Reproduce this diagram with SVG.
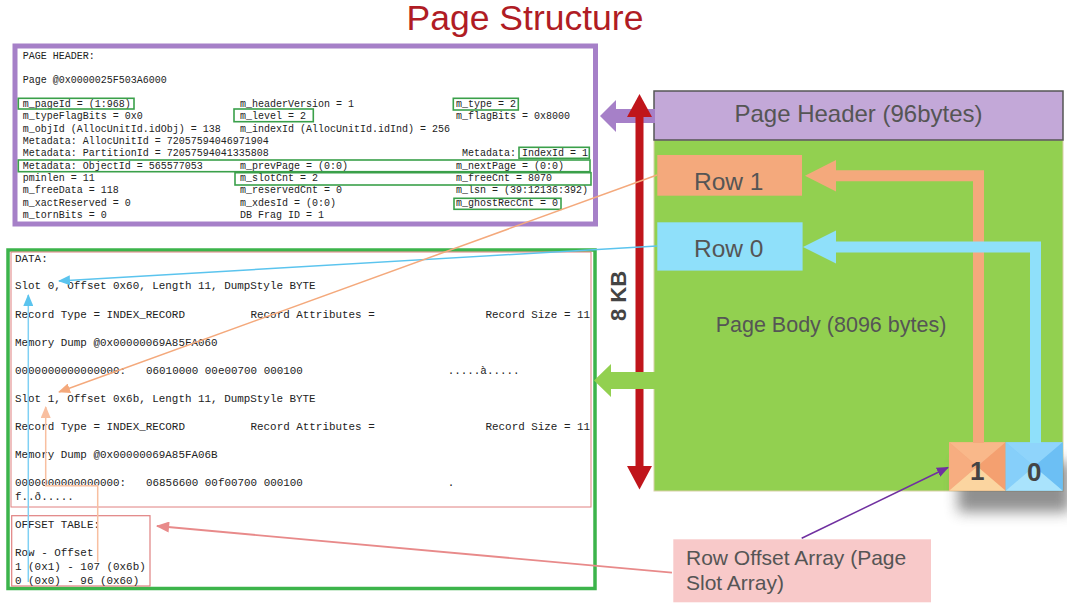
<svg xmlns="http://www.w3.org/2000/svg" width="1067" height="607" viewBox="0 0 1067 607">
<style>
.mono{font-family:"Liberation Mono","Courier New",monospace;fill:#222}
.hd{font-size:10px}
.dt{font-size:10.9px}
.sans{font-family:"Liberation Sans",Arial,sans-serif;fill:#555}
.gbox{fill:none;stroke:#3aa04a;stroke-width:1.6}
.thin{fill:none;stroke-width:1.5}
</style>
<defs>
<filter id="blur" x="-30%" y="-30%" width="160%" height="160%"><feGaussianBlur stdDeviation="7"/></filter>
<marker id="mCyan" viewBox="0 0 12 10" refX="11" refY="5" markerWidth="12" markerHeight="10" markerUnits="userSpaceOnUse" orient="auto"><path d="M0,0 L12,5 L0,10 z" fill="#5bc4ee"/></marker>
<marker id="mOrange" viewBox="0 0 12 10" refX="11" refY="5" markerWidth="12" markerHeight="10" markerUnits="userSpaceOnUse" orient="auto"><path d="M0,0 L12,5 L0,10 z" fill="#f4a97c"/></marker>
<marker id="mLOrange" viewBox="0 0 12 10" refX="11" refY="5" markerWidth="12" markerHeight="10" markerUnits="userSpaceOnUse" orient="auto"><path d="M0,0 L12,5 L0,10 z" fill="#f8bfa0"/></marker>
<marker id="mPink" viewBox="0 0 12 10" refX="11" refY="5" markerWidth="14" markerHeight="11" markerUnits="userSpaceOnUse" orient="auto"><path d="M0,0 L12,5 L0,10 z" fill="#e88a8a"/></marker>
<marker id="mPurple" viewBox="0 0 12 10" refX="11" refY="5" markerWidth="12" markerHeight="10" markerUnits="userSpaceOnUse" orient="auto"><path d="M0,0 L12,5 L0,10 z" fill="#7030a0"/></marker>
</defs>
<rect width="1067" height="607" fill="#ffffff"/>

<g id="title"><text x="525" y="30" text-anchor="middle" font-family="Liberation Sans, Arial, sans-serif" font-size="35.5" fill="#b01c24">Page Structure</text></g>

<g id="page-body">
<rect x="654" y="140" width="409" height="351" fill="#92d050" stroke="#d8d0a8" stroke-width="1"/>
<text class="sans" x="831" y="332" text-anchor="middle" font-size="21.5">Page Body (8096 bytes)</text>
</g>
<g id="page-header">
<rect x="654" y="91" width="409" height="49" fill="#c3a8d8" stroke="#555" stroke-width="1.5"/>
<text class="sans" x="858.5" y="122" text-anchor="middle" font-size="24">Page Header (96bytes)</text>
</g>
<g id="row1">
<rect x="657.3" y="155" width="144.7" height="40.7" fill="#f4a97c"/>
<text class="sans" x="694" y="190" font-size="24.5">Row 1</text>
</g>
<g id="row0">
<rect x="657.3" y="222.3" width="145.3" height="48.3" fill="#8fe0fa"/>
<text class="sans" x="694" y="257" font-size="24.5">Row 0</text>
</g>

<g id="slot-shadow"><rect x="958" y="462" width="112" height="50" fill="#555" opacity="0.65" filter="url(#blur)"/></g>
<g id="slot1">
<rect x="949" y="442.3" width="56.7" height="48.4" fill="#f6a878"/>
<polygon points="949,442.3 1005.7,442.3 977.3,466.5" fill="#f9b88a"/>
<polygon points="949,442.3 977.3,466.5 949,490.7" fill="#f7ad80"/>
<polygon points="1005.7,442.3 977.3,466.5 1005.7,490.7" fill="#f4a070"/>
<polygon points="949,490.7 977.3,466.5 1005.7,490.7" fill="#fbd5a0"/>
<text x="977.3" y="479.5" text-anchor="middle" font-family="Liberation Sans, Arial, sans-serif" font-weight="bold" font-size="26" fill="#444">1</text>
</g>
<g id="slot0">
<rect x="1005.7" y="442.3" width="57" height="48.4" fill="#7ccaf8"/>
<polygon points="1005.7,442.3 1062.7,442.3 1034.2,466.5" fill="#8fd4fb"/>
<polygon points="1005.7,442.3 1034.2,466.5 1005.7,490.7" fill="#86cffa"/>
<polygon points="1062.7,442.3 1034.2,466.5 1062.7,490.7" fill="#6cbff4"/>
<polygon points="1005.7,490.7 1034.2,466.5 1062.7,490.7" fill="#a9e3fc"/>
<text x="1034.2" y="481" text-anchor="middle" font-family="Liberation Sans, Arial, sans-serif" font-weight="bold" font-size="26" fill="#444">0</text>
</g>

<g id="header-text">
<rect x="15" y="46" width="580.5" height="178" fill="#fff" stroke="#a680c8" stroke-width="5"/>
<g class="mono hd">
<text x="22.7" y="58.5">PAGE HEADER:</text>
<text x="22.7" y="82.5">Page @0x0000025F503A6000</text>
<text x="22.7" y="106.5">m_pageId = (1:968)</text>
<text x="240" y="106.5">m_headerVersion = 1</text>
<text x="456" y="106.5">m_type = 2</text>
<text x="22.7" y="119">m_typeFlagBits = 0x0</text>
<text x="240" y="119">m_level = 2</text>
<text x="456" y="119">m_flagBits = 0x8000</text>
<text x="22.7" y="131.5">m_objId (AllocUnitId.idObj) = 138</text>
<text x="240" y="131.5">m_indexId (AllocUnitId.idInd) = 256</text>
<text x="22.7" y="144">Metadata: AllocUnitId = 72057594046971904</text>
<text x="22.7" y="156">Metadata: PartitionId = 72057594041335808</text>
<text x="462" y="156">Metadata: IndexId = 1</text>
<text x="22.7" y="168.5">Metadata: ObjectId = 565577053</text>
<text x="240" y="168.5">m_prevPage = (0:0)</text>
<text x="456" y="168.5">m_nextPage = (0:0)</text>
<text x="22.7" y="181">pminlen = 11</text>
<text x="240" y="181">m_slotCnt = 2</text>
<text x="456" y="181">m_freeCnt = 8070</text>
<text x="22.7" y="193">m_freeData = 118</text>
<text x="240" y="193">m_reservedCnt = 0</text>
<text x="456" y="193">m_lsn = (39:12136:392)</text>
<text x="22.7" y="205.5">m_xactReserved = 0</text>
<text x="240" y="205.5">m_xdesId = (0:0)</text>
<text x="456" y="205.5">m_ghostRecCnt = 0</text>
<text x="22.7" y="217.5">m_tornBits = 0</text>
<text x="240" y="217.5">DB Frag ID = 1</text>
</g>
<rect class="gbox" x="18.3" y="98.3" width="115.7" height="10.7"/>
<rect class="gbox" x="234" y="109" width="79.3" height="12.7"/>
<rect class="gbox" x="453.3" y="98.3" width="65" height="11.7"/>
<rect class="gbox" x="519" y="147.3" width="70.3" height="11"/>
<rect class="gbox" x="18.3" y="160" width="571.7" height="11.7"/>
<rect class="gbox" x="235" y="172.7" width="356" height="12.3"/>
<rect class="gbox" x="454" y="198.3" width="107" height="11"/>
</g>

<g id="data-text">
<rect x="8" y="250" width="587" height="338.5" fill="#fff" stroke="#3cb44b" stroke-width="3.5"/>
<rect x="11" y="252" width="580" height="255" fill="none" stroke="#e08080" stroke-width="1"/>
<g class="mono dt">
<text x="15" y="262">DATA:</text>
<text x="15" y="289">Slot 0, Offset 0x60, Length 11, DumpStyle BYTE</text>
<text x="15" y="317.5">Record Type = INDEX_RECORD</text>
<text x="250.5" y="317.5">Record Attributes =</text>
<text x="485.5" y="317.5">Record Size = 11</text>
<text x="15" y="346">Memory Dump @0x00000069A85FA060</text>
<text x="15" y="373.5">0000000000000000:</text>
<text x="146" y="373.5">06010000 00e00700 000100</text>
<text x="447.7" y="373.5">.....à.....</text>
<text x="15" y="402">Slot 1, Offset 0x6b, Length 11, DumpStyle BYTE</text>
<text x="15" y="429.5">Record Type = INDEX_RECORD</text>
<text x="250.5" y="429.5">Record Attributes =</text>
<text x="485.5" y="429.5">Record Size = 11</text>
<text x="15" y="458">Memory Dump @0x00000069A85FA06B</text>
<text x="15" y="486">0000000000000000:</text>
<text x="146" y="486">06856600 00f00700 000100</text>
<text x="447.7" y="486">.</text>
<text x="15" y="500">f..ð.....</text>
</g>
</g>
<g id="offset-table">
<rect x="11.7" y="515.7" width="138.3" height="70.3" fill="none" stroke="#e08080" stroke-width="1.2"/>
<g class="mono dt">
<text x="15" y="528">OFFSET TABLE:</text>
<text x="15" y="556">Row - Offset</text>
<text x="15" y="569.5">1 (0x1) - 107 (0x6b)</text>
<text x="15" y="584">0 (0x0) - 96 (0x60)</text>
</g>
</g>
<g id="row-offset-array">
<rect x="673.3" y="539.3" width="257.7" height="63" fill="#f8c9c9"/>
<text class="sans" x="686" y="565" font-size="21">Row Offset Array (Page</text>
<text class="sans" x="686" y="590" font-size="21">Slot Array)</text>
</g>

<g id="connectors">
<path d="M978.5,443 V175.7 H834" fill="none" stroke="#f4a97c" stroke-width="11"/>
<polygon points="805,175.7 836,160 836,191.5" fill="#f4a97c"/>
<path d="M1035.5,443 V247 H834" fill="none" stroke="#8fe0fa" stroke-width="11"/>
<polygon points="803,247 836,230.5 836,263.5" fill="#8fe0fa"/>
<polygon points="600,116 616,100 616,109 655,109 655,123 616,123 616,132" fill="#a680c8"/>
<line x1="639.5" y1="115" x2="639.5" y2="467" stroke="#c0151b" stroke-width="8"/>
<polygon points="639.5,94 627,117 652,117" fill="#c0151b"/>
<polygon points="639.5,489.5 627,466 652,466" fill="#c0151b"/>
<text x="0" y="0" transform="translate(626,296) rotate(-90)" text-anchor="middle" font-family="Liberation Sans, Arial, sans-serif" font-weight="bold" font-size="22" fill="#444">8 KB</text>
<polygon points="594,380.5 611,364 611,372 655,372 655,389 611,389 611,397" fill="#92d050"/>
<line class="thin" x1="657" y1="246" x2="59" y2="281" stroke="#5bc4ee" marker-end="url(#mCyan)"/>
<line class="thin" x1="657" y1="175" x2="59" y2="392" stroke="#f4a97c" marker-end="url(#mOrange)"/>
<line class="thin" x1="28.3" y1="582" x2="28.3" y2="295" stroke="#7fd0f4" marker-end="url(#mCyan)"/>
<polyline class="thin" points="97.7,562 97.7,485.7 45.7,485.7 45.7,407" stroke="#f8bfa0" marker-end="url(#mLOrange)"/>
<line x1="672" y1="572.7" x2="157" y2="526" stroke="#e88a8a" stroke-width="1.8" marker-end="url(#mPink)"/>
<line class="thin" x1="801.7" y1="538.3" x2="948" y2="467.5" stroke="#7030a0" marker-end="url(#mPurple)"/>
</g>
</svg>
